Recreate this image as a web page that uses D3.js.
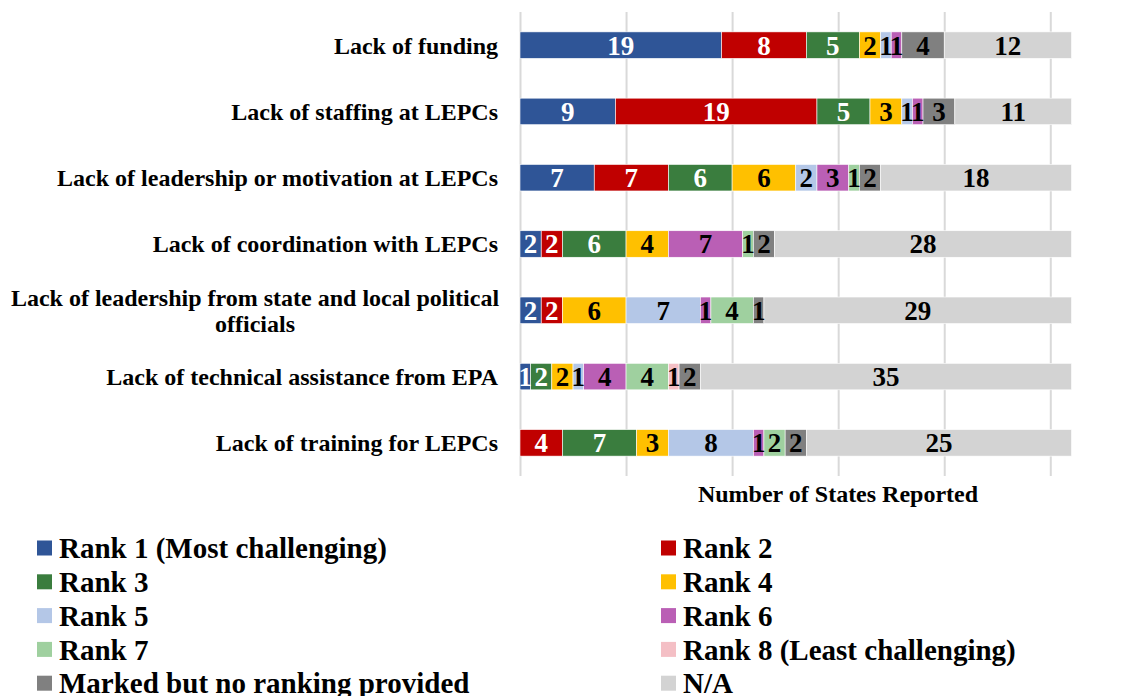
<!DOCTYPE html>
<html><head><meta charset="utf-8">
<script src="https://cdn.jsdelivr.net/npm/d3@7"></script>
<style>body{margin:0;background:#fff;}svg{display:block;}</style>
</head><body>
<svg id="c" width="1143" height="696"></svg>
<script>
const categories = [
  "Lack of funding",
  "Lack of staffing at LEPCs",
  "Lack of leadership or motivation at LEPCs",
  "Lack of coordination with LEPCs",
  "Lack of leadership from state and local political officials",
  "Lack of technical assistance from EPA",
  "Lack of training for LEPCs"
];
const seriesNames = ["Rank 1 (Most challenging)","Rank 2","Rank 3","Rank 4","Rank 5","Rank 6","Rank 7","Rank 8 (Least challenging)","Marked but no ranking provided","N/A"];
const rank1  = [19, 9, 7, 2, 2, 1, 0];
const rank2  = [8, 19, 7, 2, 2, 0, 4];
const rank3  = [5, 5, 6, 6, 0, 2, 7];
const rank4  = [2, 3, 6, 4, 6, 2, 3];
const rank5  = [1, 1, 2, 0, 7, 1, 8];
const rank6  = [1, 1, 3, 7, 1, 4, 1];
const rank7  = [0, 0, 1, 1, 4, 4, 2];
const rank8  = [0, 0, 0, 0, 0, 1, 0];
const marked = [4, 3, 2, 2, 1, 2, 2];
const na     = [12, 11, 18, 28, 29, 35, 25];
const tickValues = [0, 10, 20, 30, 40, 50];
const xMax = 52;
const axisTitle = "Number of States Reported";

const colors = ["#2F5597","#C00000","#3A7D3E","#FFC000","#B4C7E7","#BA5FB5","#9FD09F","#F4BFC5","#808080","#D3D3D3"];
const labelColors = ["#fff","#fff","#fff","#000","#000","#000","#000","#000","#000","#000"];
const allSeries = [rank1,rank2,rank3,rank4,rank5,rank6,rank7,rank8,marked,na];

const rows = categories.map((c,i)=>{
  const o = {cat:c};
  seriesNames.forEach((s,j)=>o[s]=allSeries[j][i]);
  return o;
});
const stack = d3.stack().keys(seriesNames)(rows);

const svg = d3.select("#c");
const font = "'Liberation Serif','Times New Roman',serif";
const x = d3.scaleLinear().domain([0, xMax]).range([520, 1071.5]);
const y = d3.scaleBand().domain(categories).range([12, 476]).paddingInner(0.6).paddingOuter(0.3);

// gridlines
const grid = svg.append("g").attr("transform","translate(0,476)")
  .call(d3.axisBottom(x).tickValues(tickValues).tickSize(-464).tickFormat(""));
grid.select(".domain").remove();
grid.selectAll(".tick line").attr("stroke","#d9d9d9").attr("stroke-width",2);

// bars
const layers = svg.append("g").selectAll("g").data(stack).join("g")
  .attr("fill",(d,i)=>colors[i]);
layers.selectAll("rect").data(d=>d.map(v=>({v, cat:v.data.cat}))).join("rect")
  .attr("x",d=>x(d.v[0]))
  .attr("width",d=>x(d.v[1])-x(d.v[0]))
  .attr("y",d=>y(d.cat))
  .attr("height",y.bandwidth())
  .attr("stroke","#fff").attr("stroke-width",0.6);

// value labels
const lab = svg.append("g");
stack.forEach((layer,i)=>{
  layer.forEach(v=>{
    const val = v[1]-v[0];
    if (val<=0) return;
    lab.append("text")
      .attr("x",(x(v[0])+x(v[1]))/2)
      .attr("y",y(v.data.cat)+y.bandwidth()/2)
      .attr("dy","0.35em")
      .attr("text-anchor","middle")
      .attr("font-family",font).attr("font-weight","bold").attr("font-size",27)
      .attr("fill",labelColors[i])
      .text(val);
  });
});

// category labels
const catWrap = {
  "Lack of leadership from state and local political officials": ["Lack of leadership from state and local political","officials"]
};
categories.forEach(c=>{
  const lines = catWrap[c] || [c];
  const cy = y(c)+y.bandwidth()/2;
  const lh = 26;
  lines.forEach((ln,k)=>{
    const ty = cy + (k-(lines.length-1)/2)*lh;
    svg.append("text")
      .attr("x", lines.length>1 ? 255 : 498)
      .attr("y",ty).attr("dy","0.35em")
      .attr("text-anchor", lines.length>1 ? "middle" : "end")
      .attr("font-family",font).attr("font-weight","bold").attr("font-size",24)
      .text(ln);
  });
});

// axis title
svg.append("text").attr("x",838).attr("y",494).attr("dy","0.35em")
  .attr("text-anchor","middle").attr("font-family",font).attr("font-weight","bold").attr("font-size",24)
  .text(axisTitle);

// legend
const leg = svg.append("g");
seriesNames.forEach((s,i)=>{
  const col = i%2, row = Math.floor(i/2);
  const lx = col===0 ? 37 : 661;
  const ly = 548 + row*33.8;
  leg.append("rect").attr("x",lx).attr("y",ly-7.5).attr("width",15).attr("height",15).attr("fill",colors[i]);
  leg.append("text").attr("x",lx+22).attr("y",ly).attr("dy","0.35em")
    .attr("font-family",font).attr("font-weight","bold").attr("font-size",29).text(s);
});
</script>
</body></html>
